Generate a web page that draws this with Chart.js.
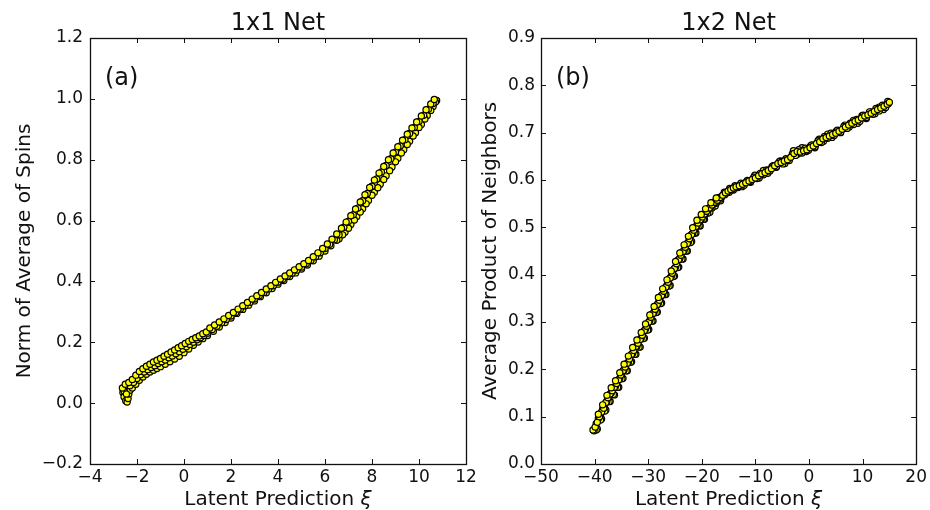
<!DOCTYPE html>
<html><head><meta charset="utf-8">
<script src="https://cdn.jsdelivr.net/npm/chart.js@4"></script>
<style>
html,body{margin:0;padding:0;background:#fff;}
#wrap{position:relative;width:930px;height:510px;overflow:hidden;background:#fff;}
canvas{position:absolute;top:0;}
#c1{left:0;}
#c2{left:470px;}
.lab{position:absolute;font-family:'DejaVu Sans';font-size:24px;line-height:24px;color:#111;white-space:nowrap;}
</style></head><body>
<div id="wrap">
<canvas id="c1" width="510" height="510"></canvas>
<canvas id="c2" width="460" height="510"></canvas>
<div class="lab" style="left:105px;top:65px;">(a)</div>
<div class="lab" style="left:556px;top:65px;">(b)</div>
</div>
<script>
// ---------- Panel (a): 1x1 Net ----------
const titleA = '1x1 Net';
const yLabelA = 'Norm of Average of Spins';
const xLabelMain = 'Latent Prediction ';
const xLabelSym = 'ξ';
const xTicksA = [-4, -2, 0, 2, 4, 6, 8, 10, 12];
const yTicksA = [-0.2, 0.0, 0.2, 0.4, 0.6, 0.8, 1.0, 1.2];

const upperAX = [-2.62,-2.5,-2.35,-2.2,-2.05,-1.9,-1.75,-1.6,-1.45,-1.3,-1.15,-1.0,-0.85,-0.7,-0.55,-0.4,-0.25,-0.1,0.05,0.2,0.35,0.5,0.65,0.8,0.95,1.1,1.3,1.5,1.7,1.9,2.1,2.3,2.5,2.7,2.9,3.1,3.3,3.5,3.7,3.9,4.1,4.3,4.5,4.7,4.9,5.1,5.3,5.5,5.7,5.9,6.1,6.3,6.5,6.7,6.9,7.1,7.3,7.5,7.7,7.9,8.1,8.3,8.5,8.7,8.9,9.1,9.3,9.5,9.7,9.9,10.1,10.3,10.5,10.65];
const upperAY = [0.05,0.062,0.068,0.078,0.092,0.104,0.113,0.121,0.128,0.135,0.141,0.147,0.154,0.161,0.168,0.175,0.182,0.189,0.196,0.203,0.209,0.215,0.221,0.228,0.234,0.247,0.257,0.267,0.277,0.288,0.298,0.309,0.32,0.331,0.342,0.353,0.364,0.375,0.386,0.397,0.408,0.418,0.428,0.438,0.448,0.458,0.469,0.481,0.494,0.508,0.523,0.539,0.556,0.575,0.595,0.616,0.638,0.661,0.685,0.709,0.733,0.756,0.778,0.8,0.822,0.843,0.864,0.884,0.904,0.924,0.944,0.964,0.983,0.998];

const midAX = [-2.55,-2.45,-2.3,-2.15,-2.0,-1.85,-1.7,-1.55,-1.4,-1.25,-1.1,-0.95,-0.8,-0.65,-0.5,-0.35,-0.2,-0.05,0.1,0.25,0.4,0.55,0.7,0.85,1.0,1.2,1.4,1.6,1.8,2.0,2.2,2.4,2.6,2.8,3.0,3.2,3.4,3.6,3.8,4.0,4.2,4.4,4.6,4.8,5.0,5.2,5.4,5.6,5.8,6.0,6.2,6.4,6.6,6.8,7.0,7.2,7.4,7.6,7.8,8.0,8.2,8.4,8.6,8.8,9.0,9.2,9.4,9.6,9.8,10.0,10.2,10.4,10.6];
const midAY = [0.04,0.03,0.057,0.068,0.081,0.093,0.102,0.11,0.117,0.123,0.13,0.136,0.142,0.149,0.155,0.162,0.169,0.177,0.185,0.193,0.2,0.208,0.215,0.222,0.23,0.242,0.253,0.264,0.275,0.286,0.298,0.309,0.32,0.331,0.342,0.353,0.364,0.375,0.386,0.397,0.407,0.417,0.427,0.437,0.447,0.458,0.469,0.481,0.494,0.508,0.522,0.537,0.553,0.578,0.598,0.619,0.641,0.665,0.689,0.713,0.737,0.76,0.781,0.803,0.825,0.845,0.866,0.886,0.906,0.926,0.946,0.966,0.985];

const lowerAX = [-2.6,-2.55,-2.48,-2.42,-2.38,-2.35,-2.3,-2.2,-2.05,-1.9,-1.75,-1.6,-1.45,-1.3,-1.15,-1.0,-0.8,-0.6,-0.4,-0.2,0.0,0.2,0.4,0.6,0.8,1.0,1.25,1.5,1.75,2.0,2.25,2.5,2.75,3.0,3.25,3.5,3.75,4.0,4.25,4.5,4.75,5.0,5.25,5.5,5.75,6.0,6.25,6.5,6.75,7.0,7.25,7.5,7.75,8.0,8.25,8.5,8.75,9.0,9.25,9.5,9.75,10.0,10.25,10.5,10.7];
const lowerAY = [0.035,0.02,0.008,0.004,0.015,0.03,0.042,0.05,0.062,0.075,0.086,0.095,0.102,0.108,0.114,0.12,0.128,0.136,0.145,0.154,0.166,0.178,0.19,0.201,0.212,0.222,0.236,0.25,0.265,0.28,0.295,0.308,0.322,0.336,0.35,0.363,0.377,0.391,0.403,0.416,0.428,0.441,0.454,0.468,0.483,0.5,0.517,0.535,0.553,0.575,0.602,0.628,0.655,0.683,0.708,0.735,0.764,0.793,0.822,0.85,0.878,0.906,0.934,0.962,0.99];

const lower2AX = [6.6,6.85,7.1,7.35,7.6,7.85,8.1,8.35,8.6,8.85,9.1,9.35,9.6,9.85,10.1,10.35,10.6,10.75];
const lower2AY = [0.54,0.562,0.587,0.613,0.639,0.666,0.693,0.719,0.747,0.776,0.805,0.833,0.861,0.889,0.916,0.945,0.975,0.995];

// ---------- Panel (b): 1x2 Net ----------
const titleB = '1x2 Net';
const yLabelB = 'Average Product of Neighbors';
const xTicksB = [-50, -40, -30, -20, -10, 0, 10, 20];
const yTicksB = [0.0, 0.1, 0.2, 0.3, 0.4, 0.5, 0.6, 0.7, 0.8, 0.9];

const centerBX = [-40.3,-39.9,-39.5,-39.1,-38.7,-38.3,-37.9,-37.5,-37.1,-36.7,-36.3,-35.9,-35.5,-35.1,-34.7,-34.3,-33.9,-33.5,-33.1,-32.7,-32.3,-31.9,-31.5,-31.1,-30.7,-30.3,-29.9,-29.5,-29.1,-28.7,-28.3,-27.9,-27.5,-27.1,-26.7,-26.3,-25.9,-25.5,-25.1,-24.7,-24.3,-23.9,-23.5,-23.1,-22.7,-22.3,-21.9,-21.5,-21.1,-20.7,-20.3,-19.9,-19.5,-19.1,-18.6,-18.1,-17.6,-17.1,-16.6,-16.1,-15.6,-15.1,-14.6,-14.1,-13.6,-13.0,-12.4,-11.8,-11.2,-10.6,-10.0,-9.4,-8.8,-8.2,-7.6,-7.0,-6.4,-5.8,-5.2,-4.6,-4.0,-3.4,-2.8,-2.2,-1.6,-1.0,-0.4,0.2,0.8,1.4,2.0,2.6,3.2,3.8,4.4,5.0,5.6,6.2,6.8,7.4,8.0,8.6,9.2,9.8,10.4,11.0,11.6,12.2,12.8,13.4,14.0,14.6,15.0];
const centerBY = [0.072,0.078,0.088,0.1,0.11,0.118,0.13,0.14,0.148,0.155,0.162,0.17,0.178,0.188,0.197,0.205,0.213,0.222,0.232,0.24,0.248,0.255,0.263,0.272,0.282,0.291,0.3,0.31,0.318,0.327,0.337,0.346,0.356,0.365,0.374,0.384,0.393,0.403,0.413,0.423,0.432,0.441,0.449,0.458,0.466,0.476,0.485,0.494,0.502,0.509,0.516,0.522,0.528,0.534,0.541,0.547,0.553,0.557,0.563,0.568,0.573,0.577,0.58,0.583,0.586,0.588,0.591,0.594,0.598,0.601,0.604,0.609,0.613,0.616,0.62,0.624,0.63,0.635,0.637,0.64,0.643,0.648,0.656,0.66,0.659,0.662,0.664,0.668,0.672,0.677,0.681,0.687,0.69,0.693,0.696,0.699,0.703,0.707,0.712,0.716,0.72,0.724,0.727,0.731,0.735,0.738,0.741,0.745,0.749,0.752,0.756,0.76,0.764];

const center2BX = [-40.1,-39.7,-39.3,-38.9,-38.5,-38.1,-37.7,-37.3,-36.9,-36.5,-36.1,-35.7,-35.3,-34.9,-34.5,-34.1,-33.7,-33.3,-32.9,-32.5,-32.1,-31.7,-31.3,-30.9,-30.5,-30.1,-29.7,-29.3,-28.9,-28.5,-28.1,-27.7,-27.3,-26.9,-26.5,-26.1,-25.7,-25.3,-24.9,-24.5,-24.1,-23.7,-23.3,-22.9,-22.5,-22.1,-21.7,-21.3,-20.9,-20.5,-20.1,-19.7,-19.3,-18.8,-18.3,-17.8,-17.3,-16.8,-16.3,-15.8,-15.3,-14.8,-14.3,-13.8,-13.3,-12.7,-12.1,-11.5,-10.9,-10.3,-9.7,-9.1,-8.5,-7.9,-7.3,-6.7,-6.1,-5.5,-4.9,-4.3,-3.7,-3.1,-2.5,-1.9,-1.3,-0.7,-0.1,0.5,1.1,1.7,2.3,2.9,3.5,4.1,4.7,5.3,5.9,6.5,7.1,7.7,8.3,8.9,9.5,10.1,10.7,11.3,11.9,12.5,13.1,13.7,14.3,14.8];
const center2BY = [0.07,0.085,0.096,0.104,0.116,0.125,0.133,0.146,0.15,0.16,0.164,0.176,0.181,0.194,0.199,0.211,0.215,0.229,0.234,0.246,0.249,0.261,0.266,0.279,0.285,0.297,0.303,0.316,0.321,0.334,0.34,0.353,0.358,0.372,0.377,0.391,0.396,0.41,0.416,0.43,0.434,0.447,0.451,0.464,0.469,0.483,0.487,0.5,0.503,0.514,0.517,0.527,0.529,0.54,0.543,0.553,0.553,0.563,0.564,0.574,0.573,0.582,0.58,0.588,0.585,0.593,0.589,0.599,0.597,0.606,0.603,0.614,0.611,0.621,0.619,0.63,0.628,0.639,0.634,0.645,0.641,0.655,0.652,0.664,0.657,0.667,0.663,0.674,0.67,0.683,0.679,0.692,0.688,0.699,0.694,0.705,0.701,0.713,0.709,0.72,0.717,0.728,0.724,0.737,0.732,0.744,0.739,0.751,0.746,0.758,0.753,0.761];

const lowerBX = [-39.7,-38.9,-38.1,-37.3,-36.5,-35.7,-34.9,-34.1,-33.3,-32.5,-31.7,-30.9,-30.1,-29.3,-28.5,-27.7,-26.9,-26.1,-25.3,-24.5,-23.7,-22.9,-22.1,-21.3,-20.5,-19.7,-18.9,-18.1,-17.3,-16.5,-15.7,-14.9,-14.1,-13.3,-12.5,-11.7,-10.9,-10.1,-9.3,-8.5,-7.7,-6.9,-6.1,-5.3,-4.5,-3.7,-2.9,-2.1,-1.3,-0.5,0.3,1.1,1.9,2.7,3.5,4.3,5.1,5.9,6.7,7.5,8.3,9.1,9.9,10.7,11.5,12.3,13.1,13.9,14.7];
const lowerBY = [0.072,0.093,0.112,0.132,0.147,0.162,0.18,0.197,0.215,0.232,0.247,0.265,0.283,0.302,0.32,0.339,0.358,0.376,0.396,0.415,0.433,0.45,0.468,0.488,0.503,0.517,0.53,0.541,0.551,0.56,0.569,0.574,0.579,0.584,0.586,0.596,0.595,0.61,0.604,0.62,0.614,0.628,0.627,0.64,0.635,0.642,0.662,0.655,0.668,0.66,0.672,0.668,0.686,0.682,0.697,0.69,0.703,0.7,0.716,0.712,0.726,0.72,0.736,0.73,0.744,0.74,0.754,0.749,0.766];

const lower2BX = [-39.5,-38.7,-37.9,-37.1,-36.3,-35.5,-34.7,-33.9,-33.1,-32.3,-31.5,-30.7,-29.9,-29.1,-28.3,-27.5,-26.7,-25.9,-25.1,-24.3,-23.5,-22.7,-21.9,-21.1,-20.3,-19.5,-18.5,-17.5,-16.5];
const lower2BY = [0.074,0.095,0.114,0.132,0.146,0.162,0.181,0.197,0.216,0.232,0.247,0.266,0.284,0.302,0.321,0.34,0.358,0.377,0.397,0.416,0.433,0.45,0.47,0.488,0.503,0.517,0.532,0.545,0.556];

const upperBX = [-39.3,-38.5,-37.7,-36.9,-36.1,-35.3,-34.5,-33.7,-32.9,-32.1,-31.3,-30.5,-29.7,-28.9,-28.1,-27.3,-26.5,-25.7,-24.9,-24.1,-23.3,-22.5,-21.7,-20.9,-20.1,-19.3,-18.3,-17.3];
const upperBY = [0.105,0.125,0.145,0.161,0.176,0.193,0.211,0.228,0.246,0.262,0.278,0.296,0.315,0.333,0.352,0.37,0.389,0.408,0.428,0.446,0.463,0.481,0.499,0.515,0.527,0.539,0.552,0.562];

// ---------- helpers ----------
const FF = "'DejaVu Sans'";
const TXT = '#111';
function pts(xs, ys){ return xs.map((x,i)=>({x:x, y:ys[i]})); }
function fmt(v, dec){ const s = (Math.abs(v) < 1e-9 ? 0 : v).toFixed(dec); return s.replace('-', '\u2212'); }
function ds(xs, ys){
  return {data: pts(xs, ys), backgroundColor:'#ffff00', borderColor:'#000', borderWidth:1.2, pointRadius:3.1, pointHoverRadius:3.1};
}
const frameTicks = {
  id:'frameTicks',
  afterDraw(chart){
    const {ctx, chartArea:a, scales} = chart;
    const L = 5;
    ctx.save();
    ctx.strokeStyle = '#111';
    ctx.lineWidth = 1;
    ctx.beginPath();
    scales.x.ticks.forEach(t=>{
      const p = Math.round(scales.x.getPixelForValue(t.value)) + 0.5;
      ctx.moveTo(p, a.bottom); ctx.lineTo(p, a.bottom - L);
      ctx.moveTo(p, a.top); ctx.lineTo(p, a.top + L);
    });
    scales.y.ticks.forEach(t=>{
      const p = Math.round(scales.y.getPixelForValue(t.value)) + 0.5;
      ctx.moveTo(a.left, p); ctx.lineTo(a.left + L, p);
      ctx.moveTo(a.right, p); ctx.lineTo(a.right - L, p);
    });
    ctx.stroke();
    ctx.lineWidth = 1.3;
    ctx.strokeRect(Math.round(a.left)+0.5, Math.round(a.top)+0.5, Math.round(a.right-a.left), Math.round(a.bottom-a.top));
    // x-axis title with italic symbol
    const f1 = '20px ' + FF, f2 = 'italic 20px ' + FF;
    ctx.fillStyle = TXT;
    ctx.textBaseline = 'middle';
    ctx.textAlign = 'left';
    ctx.font = f1; const w1 = ctx.measureText(xLabelMain).width;
    ctx.font = f2; const w2 = ctx.measureText(xLabelSym).width;
    const cx = (a.left + a.right) / 2;
    const y = scales.x.bottom - 10;
    let x0 = cx - (w1 + w2) / 2;
    ctx.font = f1; ctx.fillText(xLabelMain, x0, y);
    ctx.font = f2; ctx.fillText(xLabelSym, x0 + w1, y);
    ctx.restore();
  }
};

function makeChart(id, datasets, cfg){
  return new Chart(document.getElementById(id), {
    type:'scatter',
    data:{datasets:datasets},
    plugins:[frameTicks],
    options:{
      responsive:false, animation:false, events:[],
      layout:{padding:{left:0, right:cfg.rightPad, top:0, bottom:0}},
      plugins:{
        legend:{display:false}, tooltip:{enabled:false},
        title:{display:true, text:cfg.title, fullSize:false, color:TXT,
          font:{family:FF, size:24, weight:'normal', lineHeight:1.2}, padding:{top:9, bottom:0.2}}
      },
      scales:{
        x:{type:'linear', min:cfg.xTicks[0], max:cfg.xTicks[cfg.xTicks.length-1],
          afterBuildTicks(s){ s.ticks = cfg.xTicks.map(v=>({value:v})); },
          ticks:{color:TXT, font:{family:FF, size:17}, padding:3, autoSkip:false, maxRotation:0,
            callback:(v)=>fmt(v,0)},
          grid:{display:false, drawTicks:false}, border:{display:false},
          title:{display:false},
          afterFit(s){ s.height = 46; }
        },
        y:{type:'linear', min:cfg.yTicks[0], max:cfg.yTicks[cfg.yTicks.length-1],
          afterBuildTicks(s){ s.ticks = cfg.yTicks.map(v=>({value:v})); },
          ticks:{color:TXT, font:{family:FF, size:17}, padding:cfg.yTickPad, autoSkip:false,
            callback:(v)=>fmt(v,1)},
          grid:{display:false, drawTicks:false}, border:{display:false},
          title:{display:true, text:cfg.yLabel, color:TXT, font:{family:FF, size:20, lineHeight:1}, padding:{top:cfg.yTitlePad, bottom:0}},
          afterFit(s){ s.width = cfg.yWidth; }
        }
      }
    }
  });
}

Chart.defaults.font.family = FF;

makeChart('c1', [ds(upperAX, upperAY), ds(midAX, midAY), ds(lowerAX, lowerAY), ds(lower2AX, lower2AY)], {
  title:titleA, yLabel:yLabelA, xTicks:xTicksA, yTicks:yTicksA,
  rightPad:44, yWidth:90, yTickPad:7, yTitlePad:15
});
makeChart('c2', [ds(upperBX, upperBY), ds(centerBX, centerBY), ds(center2BX, center2BY), ds(lowerBX, lowerBY), ds(lower2BX, lower2BY)], {
  title:titleB, yLabel:yLabelB, xTicks:xTicksB, yTicks:yTicksB,
  rightPad:13, yWidth:71, yTickPad:6, yTitlePad:11
});
</script>
</body></html>
